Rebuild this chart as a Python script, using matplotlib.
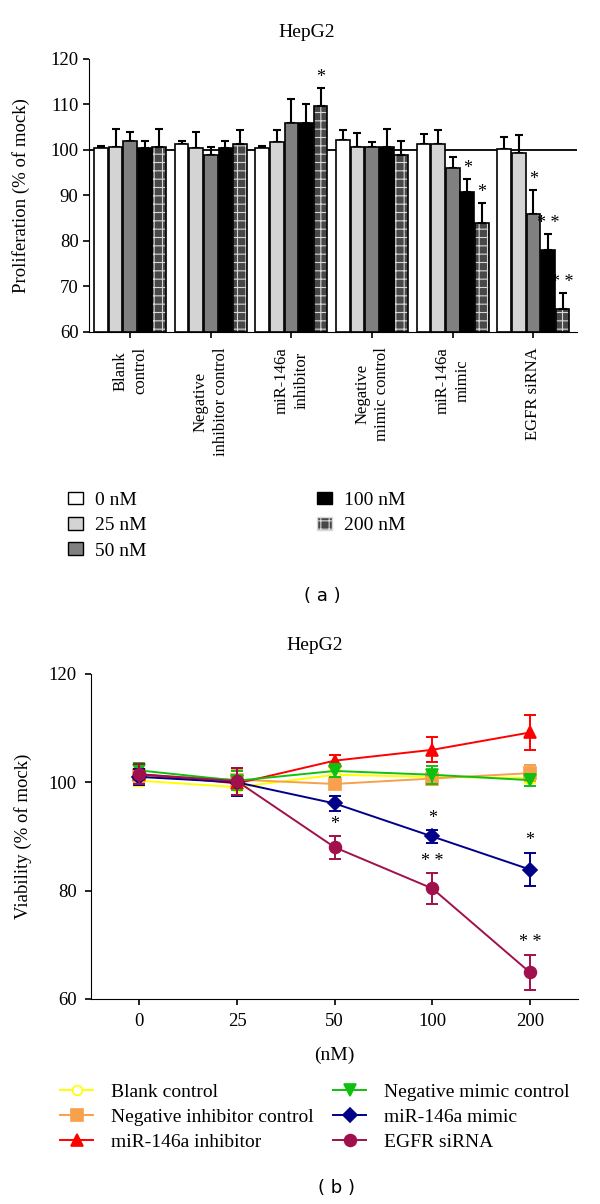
import matplotlib
matplotlib.use("Agg")
import matplotlib.pyplot as plt
from matplotlib.patches import Patch
import numpy as np

plt.rcParams['font.family'] = ['Liberation Serif', 'DejaVu Serif']
plt.rcParams['font.size'] = 14
plt.rcParams['hatch.linewidth'] = 0.8

# ---- panel (a) data: proliferation, % of mock ----
groups = ["Blank\ncontrol", "Negative\ninhibitor control", "miR-146a\ninhibitor",
          "Negative\nmimic control", "miR-146a\nmimic", "EGFR siRNA"]
doses = ["0 nM", "25 nM", "50 nM", "100 nM", "200 nM"]
# rows = groups, cols = doses
prolif = [
    [100.4, 100.7, 102.0, 100.4, 100.7],
    [101.3, 100.4, 99.0, 100.4, 101.3],
    [100.4, 101.7, 106.0, 106.0, 109.7],
    [102.2, 100.6, 100.6, 100.6, 99.0],
    [101.3, 101.3, 96.0, 90.7, 84.0],
    [100.3, 99.3, 86.0, 78.0, 65.0],
]
prolif_err = [
    [0.5, 4.0, 2.0, 1.6, 4.0],
    [0.6, 3.5, 1.6, 1.6, 3.2],
    [0.5, 2.8, 5.3, 4.1, 4.0],
    [2.1, 3.1, 1.2, 4.1, 3.0],
    [2.3, 3.2, 2.5, 2.9, 4.3],
    [2.5, 4.0, 5.2, 3.6, 3.6],
]
# significance marks: (group, dose) -> text
prolif_sig = {(2, 4): "*", (4, 3): "*", (4, 4): "*",
              (5, 2): "*", (5, 3): "* *", (5, 4): "* *"}

# ---- panel (b) data: viability, % of mock ----
conc = ["0", "25", "50", "100", "200"]
series = ["Blank control", "Negative inhibitor control", "miR-146a inhibitor",
          "Negative mimic control", "miR-146a mimic", "EGFR siRNA"]
blank = [100.3, 99.1, 101.4, 101.0, 100.8]
neg_inh = [101.3, 100.5, 99.7, 100.7, 101.7]
mir_inh = [101.5, 99.8, 104.0, 106.0, 109.2]
neg_mim = [102.2, 100.3, 102.1, 101.4, 100.4]
mir_mim = [101.0, 100.0, 96.1, 90.0, 83.9]
egfr = [101.5, 100.2, 88.0, 80.4, 64.9]
blank_err = [1.0, 1.5, 1.0, 1.0, 1.0]
neg_inh_err = [1.2, 1.8, 1.0, 1.2, 1.5]
mir_inh_err = [1.8, 2.2, 1.0, 2.3, 3.2]
neg_mim_err = [1.3, 1.8, 1.2, 1.7, 1.1]
mir_mim_err = [1.5, 2.6, 1.4, 1.2, 3.1]
egfr_err = [1.8, 2.5, 2.1, 2.9, 3.3]
viab_sig = {(4, 3): "*", (4, 4): "*",
            (5, 2): "*", (5, 3): "* *", (5, 4): "* *"}

fig = plt.figure(figsize=(6, 12.04), dpi=100)

# ================= panel (a) =================
ax1 = fig.add_axes([0.1483, 0.7243, 0.8133, 0.2267])
bar_cols = ["white", "#d4d4d4", "#808080", "black", "#484848"]
gx = np.arange(len(groups))
step, bw = 0.181, 0.17
vals = np.array(prolif)
errs = np.array(prolif_err)
ax1.axhline(100, color="black", lw=1.3, zorder=1)
for k in range(len(doses)):
    xs = gx + (k - 2) * step
    if k == 4:
        ax1.bar(xs, vals[:, k] - 60, bw, bottom=60, color=bar_cols[k],
                edgecolor="#d8d8d8", hatch="++", lw=0, zorder=2)
        ax1.bar(xs, vals[:, k] - 60, bw, bottom=60, fill=False,
                edgecolor="black", lw=1.2, zorder=3)
    else:
        ax1.bar(xs, vals[:, k] - 60, bw, bottom=60, color=bar_cols[k],
                edgecolor="black", lw=1.2, zorder=3)
    ax1.errorbar(xs, vals[:, k], yerr=[np.zeros(len(groups)), errs[:, k]],
                 fmt="none", ecolor="black", elinewidth=1.5, capsize=3.2,
                 capthick=1.5, zorder=2)
for (g, k), s in prolif_sig.items():
    ax1.text(gx[g] + (k - 2) * step, vals[g, k] + errs[g, k] + 0.4, s,
             ha="center", va="bottom", fontsize=13)

ax1.set_xlim(-0.51, 5.54)
ax1.set_ylim(60, 120)
ax1.set_yticks(np.arange(60, 121, 10))
ax1.set_xticks(gx)
ax1.set_xticklabels(groups, rotation=90, fontsize=12, linespacing=1.3)
ax1.spines["top"].set_visible(False)
ax1.spines["right"].set_visible(False)
ax1.tick_params(direction="out", length=4, width=1.2)
ax1.tick_params(axis="x", pad=7)
ax1.tick_params(axis="y", labelsize=13.5)
ax1.set_ylabel("Proliferation (% of mock)", fontsize=13.5)
ax1.yaxis.set_label_coords(-0.121, 0.5)
fig.text(0.512, 0.9734, "HepG2", ha="center", va="center", fontsize=14)

hd = [Patch(facecolor=bar_cols[k], edgecolor="black", lw=1.0) for k in range(3)]
fig.legend(hd, doses[:3], loc="upper left", bbox_to_anchor=(0.113, 0.5915),
           frameon=False, borderpad=0, borderaxespad=0, handlelength=0.77,
           handleheight=0.62, handletextpad=0.62, labelspacing=0.42)
hd2 = [Patch(facecolor="black", edgecolor="black", lw=1.0),
       Patch(facecolor="#484848", edgecolor="#d8d8d8", hatch="++", lw=1.0)]
fig.legend(hd2, doses[3:], loc="upper left", bbox_to_anchor=(0.528, 0.5915),
           frameon=False, borderpad=0, borderaxespad=0, handlelength=0.77,
           handleheight=0.62, handletextpad=0.62, labelspacing=0.42)
fig.text(0.538, 0.505, "( a )", ha="center", va="center", fontsize=13,
         family="DejaVu Sans")

# ================= panel (b) =================
ax2 = fig.add_axes([0.151, 0.1703, 0.812, 0.2699])
cx = np.arange(len(conc))
ydata = [blank, neg_inh, mir_inh, neg_mim, mir_mim, egfr]
edata = [blank_err, neg_inh_err, mir_inh_err, neg_mim_err, mir_mim_err, egfr_err]
colors = ["#ffff00", "#f8a04c", "#ff0000", "#10c010", "#000088", "#a0104c"]
markers = ["o", "s", "^", "v", "D", "o"]
mfaces = ["white", "#f8a04c", "#ff0000", "#10c010", "#000088", "#a0104c"]
msizes = [7, 8, 8, 8, 7, 8.5]
handles = []
for i in range(len(series)):
    ax2.errorbar(cx, ydata[i], yerr=edata[i], fmt="none", ecolor=colors[i],
                 elinewidth=1.4, capsize=4.5, capthick=1.4, zorder=2 + i)
    ln, = ax2.plot(cx, ydata[i], color=colors[i], lw=1.4, marker=markers[i],
                   ms=msizes[i], mfc=mfaces[i], mec=colors[i], mew=1.2,
                   label=series[i], zorder=2 + i)
    handles.append(ln)
for (i, j), s in viab_sig.items():
    ax2.text(cx[j], ydata[i][j] + edata[i][j] + 0.6, s, ha="center",
             va="bottom", fontsize=13)

ax2.set_xlim(-0.5, 4.49)
ax2.set_ylim(60, 120)
ax2.set_yticks([60, 80, 100, 120])
ax2.set_xticks(cx)
ax2.set_xticklabels(conc)
ax2.spines["top"].set_visible(False)
ax2.spines["right"].set_visible(False)
ax2.tick_params(direction="out", length=4, width=1.2, pad=6, labelsize=13.5)
ax2.set_xlabel("(nM)", fontsize=14)
ax2.xaxis.set_label_coords(0.5, -0.148)
ax2.set_ylabel("Viability (% of mock)", fontsize=13.5)
ax2.yaxis.set_label_coords(-0.12, 0.5)
fig.text(0.525, 0.4635, "HepG2", ha="center", va="center", fontsize=14)

fig.legend(handles[:3], series[:3], loc="upper left", bbox_to_anchor=(0.1, 0.1),
           frameon=False, borderpad=0, borderaxespad=0, handlelength=1.7,
           handletextpad=0.9, labelspacing=0.38)
fig.legend(handles[3:], series[3:], loc="upper left", bbox_to_anchor=(0.555, 0.1),
           frameon=False, borderpad=0, borderaxespad=0, handlelength=1.7,
           handletextpad=0.9, labelspacing=0.38)
fig.text(0.561, 0.0133, "( b )", ha="center", va="center", fontsize=13,
         family="DejaVu Sans")

fig.savefig("out.png", dpi=100)
